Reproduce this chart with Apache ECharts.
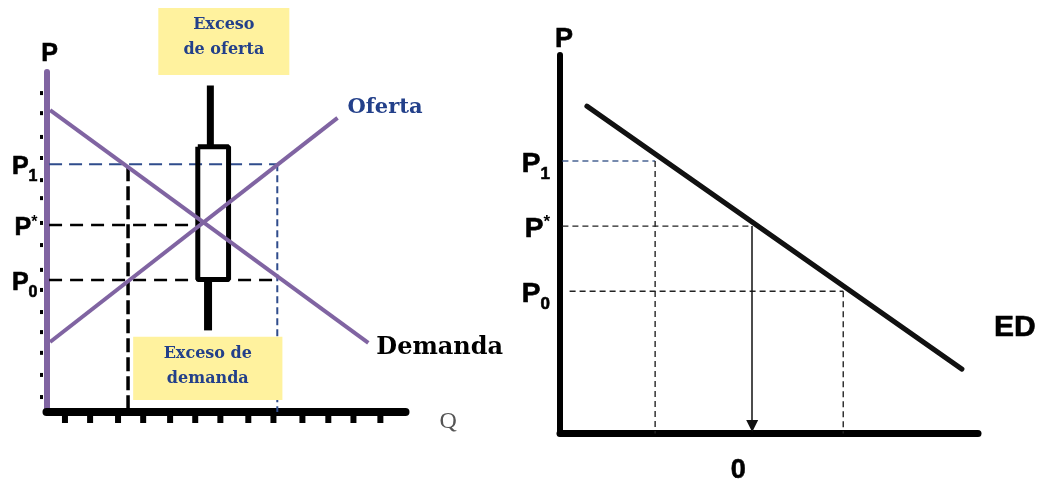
<!DOCTYPE html>
<html><head><meta charset="utf-8">
<script src="https://cdn.jsdelivr.net/npm/echarts@6/dist/echarts.min.js"></script>
<style>html,body{margin:0;padding:0;background:#fff}#c{width:1040px;height:485px}</style>
</head><body><div id="c"></div>
<script>
// ---------- Left panel: market (Q, P) ----------
const demandLine = [[0.14, 8.88], [12.55, 2.03]];
const supplyLine = [[0.14, 2.06], [11.35, 8.65]];
const leftPrices = [7.29, 5.5, 3.88];          // P1, P*, P0
const priceSubs = ['1', '*', '0'];
const leftQuantities = [3.18, 9.0];             // Qd at P1 (=Qs at P0), Qs at P1
const leftQEquil = 6.0;
const leftQTicks = [0.72, 1.70, 2.79, 3.77, 4.82, 5.80, 6.78, 7.87, 8.85, 9.98, 10.99, 11.97, 13.02];
const leftPTicks = [0.44, 1.09, 1.74, 2.35, 2.94, 3.59, 4.18, 4.91, 5.56, 6.29, 6.82, 7.47, 8.09, 8.79, 9.38];
const arrowTop = [[6.39, 9.6], [6.39, 7.8]];
const arrowBody = [[5.9, 7.8], [7.1, 7.8], [7.1, 3.9], [5.9, 3.9], [5.9, 7.8]];
const arrowBottom = [[6.3, 3.9], [6.3, 2.4]];
const boxTexts = ['Exceso\nde oferta', 'Exceso de\ndemanda'];
const boxExtents = [[4.36, 9.91, 9.47, 11.88], [3.38, 0.35, 9.2, 2.21]]; // q0, p0, q1, p1

// ---------- Right panel: excess demand (ED, P) ----------
const edLine = [[-6.88, 8.65], [8.73, 1.70]];
const rightPrices = [7.2, 5.48, 3.76];         // P1, P*, P0
const rightED = [-4.04, 0, 3.79];              // ED at P1, P*, P0

const PURPLE = '#8064A2', NAVY = '#23408A';
const sans = '"Liberation Sans", Arial, sans-serif';
const serif = '"DejaVu Serif", serif';
const heavy = {textBorderColor: '#000', textBorderWidth: 0.6};

function seg(data, xi, color, width, type, z) {
  return {type: 'line', xAxisIndex: xi, yAxisIndex: xi, data: data, symbol: 'none', silent: true,
    lineStyle: {color: color, width: width, type: type || 'solid', cap: 'butt'}, z: z || 2, animation: false};
}
function labelSeries(xi, data, labelOpt) {
  return {type: 'scatter', xAxisIndex: xi, yAxisIndex: xi, symbolSize: 0, silent: true, data: data,
    itemStyle: {opacity: 1}, label: Object.assign({show: true}, labelOpt), z: 10, animation: false};
}
const richP = (size, sub) => ({
  p: Object.assign({fontSize: size, fontWeight: 'bold', fontFamily: sans, color: '#000', lineHeight: size + 2}, heavy),
  s: Object.assign({fontSize: sub, fontWeight: 'bold', fontFamily: sans, color: '#000', verticalAlign: 'bottom', lineHeight: size + 2, padding: [0, 0, -4, 0]}, heavy),
  t: {fontSize: sub, fontWeight: 'bold', fontFamily: sans, color: '#000', verticalAlign: 'top', lineHeight: size + 2}
});
const priceFmt = p => {
  const s = priceSubs[p.dataIndex];
  return s === '*' ? '{p|P}{t|*}' : '{p|P}{s|' + s + '}';
};

const series = [];
// left panel lines
series.push(seg([[0.1, leftPrices[0]], [leftQuantities[1], leftPrices[0]]], 0, '#2F4C8C', 2, [13, 7]));
series.push(seg([[leftQuantities[1], leftPrices[0]], [leftQuantities[1], 0]], 0, '#2F4C8C', 2, [7, 4]));
series.push(seg([[0.1, leftPrices[1]], [leftQEquil, leftPrices[1]]], 0, '#000', 2.5, [13, 8]));
series.push(seg([[0.1, leftPrices[2]], [8.85, leftPrices[2]]], 0, '#000', 2.5, [13, 8]));
series.push(seg([[leftQuantities[0], 7.2], [leftQuantities[0], 0]], 0, '#000', 3.5, [14, 5]));
series.push(seg(arrowTop, 0, '#000', 7, 'solid', 3));
series.push(seg(arrowBody, 0, '#000', 5, 'solid', 3));
series.push(seg(arrowBottom, 0, '#000', 8, 'solid', 3));
series.push(seg(demandLine, 0, PURPLE, 4, 'solid', 4));
series.push(seg(supplyLine, 0, PURPLE, 4, 'solid', 4));
// ticks
series.push({type: 'scatter', xAxisIndex: 0, yAxisIndex: 0, silent: true, animation: false, z: 5,
  data: leftQTicks.map(q => [q, 0]), symbol: 'rect', symbolSize: [6, 10], symbolOffset: [0, 6],
  itemStyle: {color: '#000', opacity: 1}});
series.push({type: 'scatter', xAxisIndex: 0, yAxisIndex: 0, silent: true, animation: false, z: 5,
  data: leftPTicks.map(p => [0, p]), symbol: 'rect', symbolSize: [3, 4], symbolOffset: [-5, 0],
  itemStyle: {color: '#000', opacity: 1}});
// yellow boxes
series.push({type: 'custom', xAxisIndex: 0, yAxisIndex: 0, clip: false, silent: true, animation: false, z: 6,
  data: boxExtents,
  renderItem: (params, api) => {
    const a = api.coord([api.value(0), api.value(3)]);
    const b = api.coord([api.value(2), api.value(1)]);
    return {type: 'group', children: [
      {type: 'rect', shape: {x: a[0], y: a[1], width: b[0] - a[0], height: b[1] - a[1]}, style: {fill: '#FFF29E'}},
      {type: 'text', style: {text: boxTexts[params.dataIndex], x: (a[0] + b[0]) / 2, y: a[1] + 4,
        align: 'center', verticalAlign: 'top', lineHeight: 25, fill: NAVY,
        font: 'bold 16px ' + serif}}
    ]};
  }});
// left labels
series.push(labelSeries(0, leftPrices.map(p => [0, p]), {position: 'left', distance: 9, offset: [0, 3],
  formatter: priceFmt, rich: richP(25, 16)}));
series.push(labelSeries(0, [[0, 10]], Object.assign({position: 'top', distance: 5, offset: [3, 0], formatter: 'P',
  fontSize: 25, fontWeight: 'bold', fontFamily: sans, color: '#000'}, heavy)));
series.push(labelSeries(0, [supplyLine[1]], {position: 'right', distance: 10, offset: [0, -10], formatter: 'Oferta',
  fontSize: 21, fontWeight: 'bold', fontFamily: serif, color: NAVY}));
series.push(labelSeries(0, [demandLine[1]], {position: 'right', distance: 8, offset: [0, 5], formatter: 'Demanda',
  fontSize: 24, fontWeight: 'bold', fontFamily: serif, color: '#000'}));
series.push(labelSeries(0, [[14, 0]], {position: 'right', distance: 34, offset: [0, 10], formatter: 'Q',
  fontSize: 24, fontFamily: '"Liberation Serif", serif', color: '#555'}));

// right panel
series.push(seg([[-7.9, rightPrices[0]], [rightED[0], rightPrices[0]]], 1, '#4A6494', 1.4, [6, 4]));
series.push(seg([[rightED[0], rightPrices[0]], [rightED[0], 0]], 1, '#222', 1.4, [6, 4]));
series.push(seg([[-7.9, rightPrices[1]], [rightED[1], rightPrices[1]]], 1, '#222', 1.4, [6, 4]));
series.push(seg([[-7.6, rightPrices[2]], [rightED[2], rightPrices[2]]], 1, '#222', 1.4, [6, 4]));
series.push(seg([[rightED[2], rightPrices[2]], [rightED[2], 0]], 1, '#222', 1.4, [6, 4]));
series.push({type: 'lines', coordinateSystem: 'cartesian2d', xAxisIndex: 1, yAxisIndex: 1, silent: true, animation: false,
  data: [{coords: [[rightED[1], rightPrices[1]], [rightED[1], 0.2]]}],
  symbol: ['none', 'triangle'], symbolSize: 12, lineStyle: {color: '#111', width: 1.5, opacity: 1}, z: 4});
series.push(seg(edLine, 1, '#111', 5, 'solid', 4));
series[series.length - 1].lineStyle.cap = 'round';
series.push(labelSeries(1, rightPrices.map(p => [-8, p]), {position: 'left', distance: 10, offset: [0, 3],
  formatter: priceFmt, rich: richP(28, 17)}));
series.push(labelSeries(1, [[-8, 10]], Object.assign({position: 'top', distance: 2, offset: [4, 0], formatter: 'P',
  fontSize: 27, fontWeight: 'bold', fontFamily: sans, color: '#000'}, heavy)));
series.push(labelSeries(1, [edLine[1]], Object.assign({position: 'right', distance: 32, offset: [0, -41], formatter: 'ED',
  fontSize: 30, fontWeight: 'bold', fontFamily: sans, color: '#000'}, heavy)));
series.push(labelSeries(1, [[0, 0]], Object.assign({position: 'bottom', distance: 24, offset: [-14, 0], formatter: '0',
  fontSize: 27, fontWeight: 'bold', fontFamily: sans, color: '#000'}, heavy)));

function axis(min, max, color, width, extra) {
  return Object.assign({type: 'value', min: min, max: max,
    axisLine: {show: true, onZero: true, lineStyle: {color: color, width: width}},
    axisTick: {show: false}, axisLabel: {show: false}, splitLine: {show: false}}, extra || {});
}

const option = {
  animation: false,
  backgroundColor: '#fff',
  grid: [
    {left: 46.5, top: 72, width: 359, height: 340},
    {left: 560, top: 55, width: 418, height: 378.5}
  ],
  xAxis: [axis(0, 14, '#000', 8, {gridIndex: 0}), axis(-8, 9.4, '#000', 7, {gridIndex: 1})],
  yAxis: [axis(0, 10, PURPLE, 6, {gridIndex: 0}),
          axis(0, 10, '#000', 6, {gridIndex: 1, axisLine: {show: true, onZero: false, lineStyle: {color: '#000', width: 6}}})],
  series: series
};
const chart = echarts.init(document.getElementById('c'), null, {renderer: 'canvas'});
chart.setOption(option);
</script></body></html>
